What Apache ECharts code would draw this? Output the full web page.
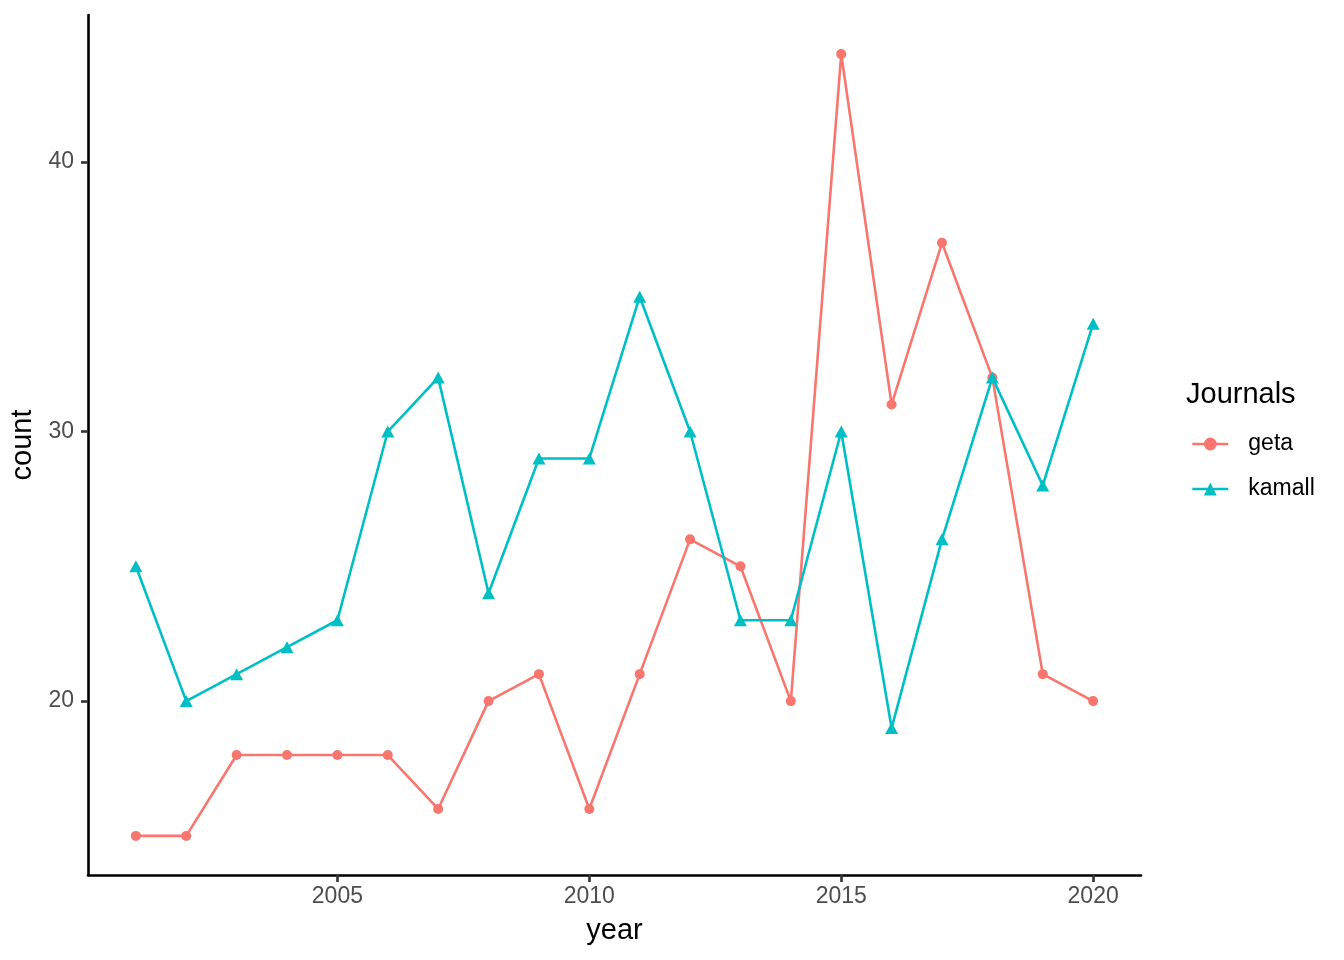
<!DOCTYPE html>
<html>
<head>
<meta charset="utf-8">
<script src="https://cdn.jsdelivr.net/npm/echarts@6/dist/echarts.min.js"></script>
<style>html,body{margin:0;padding:0;background:#fff}#c{width:1344px;height:960px}</style>
</head>
<body>
<div id="c"></div>
<script>
const years = [2001,2002,2003,2004,2005,2006,2007,2008,2009,2010,2011,2012,2013,2014,2015,2016,2017,2018,2019,2020];
const geta = [15,15,18,18,18,18,16,20,21,16,21,26,25,20,44,31,37,32,21,20];
const kamall = [25,20,21,22,23,30,32,24,29,29,35,30,23,23,30,19,26,32,28,34];
const xTicks = [2005,2010,2015,2020];
const yTicks = [20,30,40];
const seriesNames = ['geta','kamall'];
const colors = ['#F8766D','#00BFC4'];

const chart = echarts.init(document.getElementById('c'));
const font = 'Liberation Sans, Arial, sans-serif';
chart.setOption({
  animation:false,
  backgroundColor:'#fff',
  grid:{left:88,right:203,top:15,bottom:85},
  xAxis:{
    type:'value', min:2000.05, max:2020.95,
    name:'year', nameLocation:'middle', nameGap:41,
    nameTextStyle:{fontSize:29,color:'#000',fontFamily:font},
    axisLine:{lineStyle:{color:'#000',width:2.6}},
    axisTick:{show:true,length:7,lineStyle:{color:'#333',width:2.6},customValues:xTicks},
    axisLabel:{fontSize:23,color:'#4d4d4d',fontFamily:font,margin:10,customValues:xTicks,formatter:v=>String(v)},
    splitLine:{show:false}
  },
  yAxis:{
    type:'value', min:13.55, max:45.45,
    name:'count', nameLocation:'middle', nameGap:49, nameRotate:90,
    nameTextStyle:{fontSize:29,color:'#000',fontFamily:font},
    axisLine:{show:true,lineStyle:{color:'#000',width:2.6}},
    axisTick:{show:true,length:7,lineStyle:{color:'#333',width:2.6},customValues:yTicks},
    axisLabel:{fontSize:23,color:'#4d4d4d',fontFamily:font,margin:14,customValues:yTicks,formatter:v=>String(v)},
    splitLine:{show:false}
  },
  legend:{
    orient:'vertical', left:1191, top:432, padding:0, itemGap:21, itemWidth:36, itemHeight:16,
    lineStyle:{width:2.6},
    textStyle:{fontSize:23,lineHeight:24,color:'#000',fontFamily:font,padding:[0,0,0,15]},
    data:seriesNames
  },
  graphic:[{type:'text',left:1186,top:380,style:{text:'Journals',fontSize:29,fill:'#000',fontFamily:font}}],
  series:[
    {name:'geta',type:'line',data:years.map((y,i)=>[y,geta[i]]),color:colors[0],
     symbol:'circle',symbolSize:10,showSymbol:true,lineStyle:{width:2.6},itemStyle:{color:colors[0]}},
    {name:'kamall',type:'line',data:years.map((y,i)=>[y,kamall[i]]),color:colors[1],
     symbol:'triangle',symbolSize:[13,12],showSymbol:true,lineStyle:{width:2.6},itemStyle:{color:colors[1]}}
  ]
});
</script>
</body>
</html>
